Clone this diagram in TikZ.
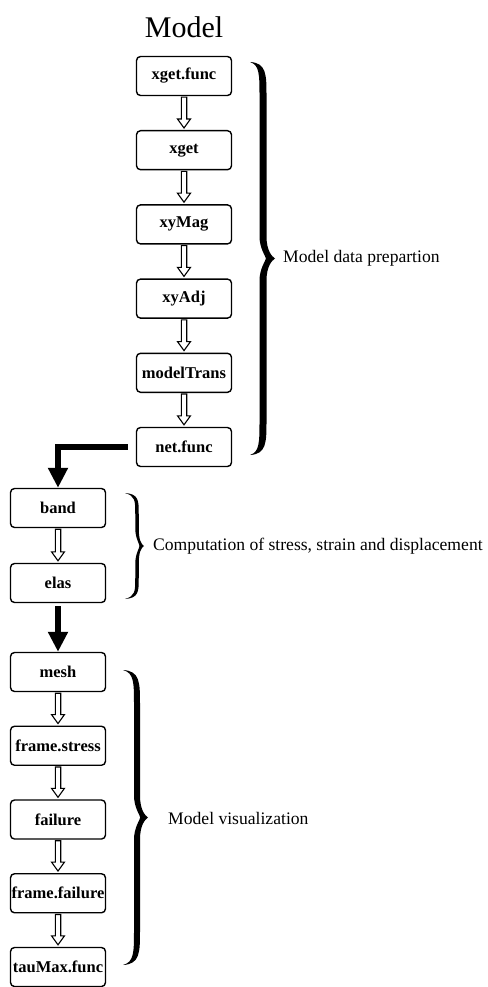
\documentclass[tikz,border=0pt]{standalone}
\usepackage{fontspec}
\setmainfont{Liberation Serif}
\usetikzlibrary{arrows.meta,calc}
\tikzset{
 box/.style={draw, rounded corners=4pt, line width=1.4pt, minimum width=95pt, minimum height=39pt, inner sep=0pt, font=\fontsize{16.5}{18}\selectfont\bfseries},
 lbl/.style={anchor=west, inner sep=0pt, font=\fontsize{17.6}{19}\selectfont},
 hollow/.style={draw, fill=white, line width=1.1pt, line join=miter},
 bigarrow/.style={line width=6.5pt, line join=miter, -{Triangle[width=19pt,length=20pt]}},
}
\newcommand\harrow[2]{\draw[hollow] ($(#1.south)+(-2.7,1)$) -- ($(#2.north)+(-2.7,-11)$) -- ($(#2.north)+(-6.5,-11)$) -- ($(#2.north)+(0,-2)$) -- ($(#2.north)+(6.5,-11)$) -- ($(#2.north)+(2.7,-11)$) -- ($(#1.south)+(2.7,1)$) -- cycle;}
\newcommand\tbrace[6]{%
 \pgfmathsetmacro\bym{(#2+#3)/2}%
 \pgfmathsetmacro\bxo{#4+#6/2}%
 \pgfmathsetmacro\bxi{#4-#6/2}%
 \pgfmathsetmacro\bxti{#5-1.3*#6}%
 \pgfmathsetmacro\bel{min(35,(#3-#2)/5)}%
 \pgfmathsetmacro\btl{min(22,(#3-#2)/6)}%
 \fill (#1,#2) .. controls (\bxo,{#2+1}) and (\bxo,{#2+0.35*\bel}) .. (\bxo,{#2+\bel})
   -- (\bxo,{\bym-\btl}) .. controls (\bxo,{\bym-0.35*\btl}) and ({#5-3},{\bym-2}) .. (#5,\bym)
   .. controls ({#5-3},{\bym+2}) and (\bxo,{\bym+0.35*\btl}) .. (\bxo,{\bym+\btl})
   -- (\bxo,{#3-\bel}) .. controls (\bxo,{#3-0.35*\bel}) and (\bxo,{#3-1}) .. (#1,#3)
   .. controls (\bxi,{#3-3}) and (\bxi,{#3-0.35*\bel}) .. (\bxi,{#3-\bel})
   -- (\bxi,{\bym+\btl}) .. controls (\bxi,{\bym+0.45*\btl}) and (\bxti,{\bym+2}) .. (\bxti,\bym)
   .. controls (\bxti,{\bym-2}) and (\bxi,{\bym-0.45*\btl}) .. (\bxi,{\bym-\btl})
   -- (\bxi,{#2+\bel}) .. controls (\bxi,{#2+0.35*\bel}) and (\bxi,{#2+3}) .. (#1,#2) -- cycle;}
\begin{document}
\begin{tikzpicture}[x=1pt,y=-1pt]
\useasboundingbox (0,0) rectangle (487,987);
\node[font=\fontsize{30}{32}\selectfont, inner sep=0pt] (title) at (184,27) {Model};
% top column
\node[box] (xgetfunc) at (184,76) {xget.func};
\node[box] (xget) at (184,150.2) {xget};
\node[box] (xymag) at (184,224.4) {xyMag};
\node[box] (xyadj) at (184,298.6) {xyAdj};
\node[box] (modeltrans) at (184,372.8) {modelTrans};
\node[box] (netfunc) at (184,447) {net.func};
% left column
\node[box] (band) at (58,508) {band};
\node[box] (elas) at (58,583) {elas};
\node[box] (mesh) at (58,672) {mesh};
\node[box] (fstress) at (58,745.75) {frame.stress};
\node[box] (failure) at (58,819.5) {failure};
\node[box] (ffailure) at (58,893.25) {frame.failure};
\node[box] (taumax) at (58,967) {tauMax.func};
% hollow arrows
\harrow{xgetfunc}{xget}
\harrow{xget}{xymag}
\harrow{xymag}{xyadj}
\harrow{xyadj}{modeltrans}
\harrow{modeltrans}{netfunc}
\harrow{band}{elas}
\harrow{mesh}{fstress}
\harrow{fstress}{failure}
\harrow{failure}{ffailure}
\harrow{ffailure}{taumax}
% thick arrows
\draw[bigarrow, shorten <=8pt] (netfunc.west) -| (band.north);
\draw[bigarrow, shorten <=3pt] (elas.south) -- (mesh.north);
% braces
\tbrace{250}{62}{455}{263}{275}{7}
\node[lbl] (l1) at (283,258) {Model data prepartion};
\tbrace{125}{493}{599}{137}{144}{3.5}
\node[lbl] (l2) at (153,546) {Computation of stress, strain and displacement};
\tbrace{123}{670}{965}{137}{148}{6}
\node[lbl] (l3) at (168,818) {Model visualization};
\end{tikzpicture}
\end{document}
